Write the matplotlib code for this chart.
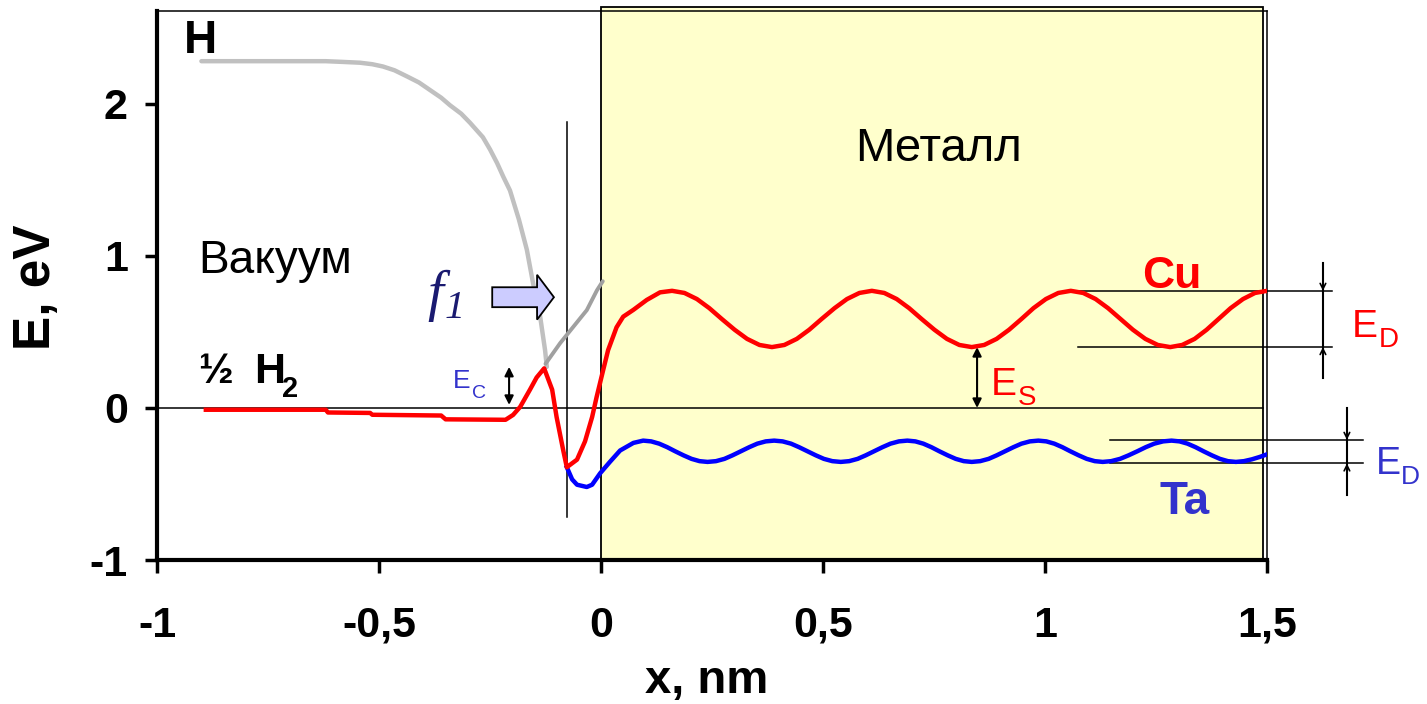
import matplotlib
matplotlib.use('Agg')
import matplotlib.pyplot as plt
from matplotlib.patches import Rectangle, FancyArrow

plt.rcParams['font.family'] = ['Liberation Sans', 'DejaVu Sans']

# ---------------- data ----------------
x_ticks = [-1, -0.5, 0, 0.5, 1, 1.5]
x_tick_labels = ['-1', '-0,5', '0', '0,5', '1', '1,5']
y_ticks = [-1, 0, 1, 2]
y_tick_labels = ['-1', '0', '1', '2']

# H atom (grey) curve
h_x = [-0.90, -0.62, -0.58, -0.543, -0.515, -0.491, -0.465, -0.437, -0.41, -0.385,
       -0.36, -0.34, -0.315, -0.295, -0.266, -0.25, -0.234, -0.22, -0.205,
       -0.185, -0.167, -0.153, -0.137, -0.126, -0.122]
h_y = [2.28, 2.28, 2.275, 2.27, 2.26, 2.245, 2.22, 2.18, 2.14, 2.09,
       2.04, 1.99, 1.935, 1.875, 1.78, 1.70, 1.61, 1.52, 1.43,
       1.24, 1.04, 0.82, 0.60, 0.38, 0.27]

# second (darker grey) branch
f1_x = [-0.125, -0.092, -0.063, -0.032, -0.009, 0.004]
f1_y = [0.29, 0.426, 0.531, 0.643, 0.774, 0.833]

# Cu (red)
cu_x = [-0.89, -0.62, -0.615, -0.52, -0.515, -0.36, -0.35, -0.215, -0.198,
        -0.182, -0.16, -0.145, -0.128, -0.11, -0.10, -0.085, -0.077,
        -0.054, -0.036, -0.02, -0.01, 0.005, 0.016, 0.035, 0.05, 0.073,
        0.103, 0.133, 0.16,
        0.188, 0.216, 0.244, 0.272, 0.301, 0.329, 0.357, 0.385,
        0.413, 0.441, 0.469, 0.497, 0.526, 0.554, 0.582, 0.61,
        0.638, 0.666, 0.694, 0.722, 0.751, 0.779, 0.807, 0.835,
        0.863, 0.891, 0.919, 0.947, 0.974, 1.002, 1.030, 1.058,
        1.086, 1.114, 1.142, 1.170, 1.198, 1.226, 1.254, 1.282,
        1.309, 1.337, 1.364, 1.391, 1.418, 1.446, 1.473, 1.50]
cu_y = [-0.012, -0.012, -0.030, -0.033, -0.045, -0.050, -0.075, -0.078, -0.046,
        0.007, 0.12, 0.20, 0.26, 0.12, -0.06, -0.28, -0.39,
        -0.34, -0.22, -0.06, 0.07, 0.25, 0.38, 0.53, 0.60, 0.645,
        0.71, 0.76, 0.77,
        0.756, 0.716, 0.656, 0.585, 0.514, 0.454, 0.414, 0.40,
        0.414, 0.454, 0.514, 0.585, 0.656, 0.716, 0.756, 0.77,
        0.756, 0.716, 0.656, 0.585, 0.514, 0.454, 0.414, 0.40,
        0.414, 0.454, 0.514, 0.585, 0.656, 0.716, 0.756, 0.77,
        0.756, 0.716, 0.656, 0.585, 0.514, 0.454, 0.414, 0.40,
        0.414, 0.454, 0.514, 0.585, 0.656, 0.716, 0.756, 0.77]

# Ta (blue)
ta_x = [-0.077, -0.065, -0.054, -0.032, -0.02, -0.002, 0.02, 0.043, 0.073, 0.095,
        0.113, 0.131, 0.149, 0.167, 0.186, 0.204, 0.222, 0.240,
        0.259, 0.278, 0.296, 0.315, 0.334, 0.352, 0.371, 0.390,
        0.409, 0.428, 0.446, 0.465, 0.484, 0.502, 0.521, 0.540,
        0.559, 0.578, 0.596, 0.615, 0.634, 0.652, 0.671, 0.690,
        0.708, 0.726, 0.744, 0.762, 0.781, 0.799, 0.817, 0.835,
        0.854, 0.873, 0.891, 0.910, 0.929, 0.947, 0.966, 0.985,
        1.003, 1.021, 1.039, 1.057, 1.076, 1.094, 1.112, 1.130,
        1.149, 1.169, 1.188, 1.208, 1.227, 1.246, 1.266, 1.285,
        1.303, 1.321, 1.339, 1.357, 1.376, 1.394, 1.412, 1.430,
        1.448, 1.466, 1.484, 1.500]
ta_y = [-0.39, -0.47, -0.505, -0.52, -0.505, -0.43, -0.355, -0.28, -0.23, -0.215,
        -0.220, -0.235, -0.258, -0.285, -0.312, -0.335, -0.350, -0.355,
        -0.350, -0.335, -0.312, -0.285, -0.258, -0.235, -0.220, -0.215,
        -0.220, -0.235, -0.258, -0.285, -0.312, -0.335, -0.350, -0.355,
        -0.350, -0.335, -0.312, -0.285, -0.258, -0.235, -0.220, -0.215,
        -0.220, -0.235, -0.258, -0.285, -0.312, -0.335, -0.350, -0.355,
        -0.350, -0.335, -0.312, -0.285, -0.258, -0.235, -0.220, -0.215,
        -0.220, -0.235, -0.258, -0.285, -0.312, -0.335, -0.350, -0.355,
        -0.350, -0.335, -0.312, -0.285, -0.258, -0.235, -0.220, -0.215,
        -0.220, -0.235, -0.258, -0.285, -0.312, -0.335, -0.350, -0.355,
        -0.350, -0.338, -0.322, -0.305]

cu_max, cu_min = 0.77, 0.40
ta_max, ta_min = -0.21, -0.365

# ---------------- figure ----------------
W, H = 1427, 704
fig = plt.figure(figsize=(W / 100, H / 100), dpi=100)
ax = fig.add_axes([157 / W, 1 - 560 / H, 1110 / W, 549 / H])
ax.set_xlim(-1, 1.5)
ax.set_ylim(-1, 2.61)

# metal region
ax.add_patch(Rectangle((0, -1), 1.49, 3.635, facecolor='#FFFFCC',
                       edgecolor='black', lw=1.3, zorder=0, clip_on=False))

# zero line and vertical marker
ax.plot([-1, 1.49], [0, 0], color='black', lw=1.1, zorder=2)
ax.plot([-0.077, -0.077], [-0.72, 1.88], color='black', lw=1.1, zorder=2)

# curves
ax.plot(h_x, h_y, color='#C0C0C0', lw=3.2, zorder=3, solid_capstyle='round')
ax.plot(f1_x, f1_y, color='#A0A0A0', lw=2.8, zorder=3, solid_capstyle='round')
ax.plot(ta_x, ta_y, color='#0000FF', lw=3.2, zorder=4)
ax.plot(cu_x, cu_y, color='#FF0000', lw=3.2, zorder=5)

# axes styling
for s in ['left', 'bottom']:
    ax.spines[s].set_linewidth(3)
for s in ['top', 'right']:
    ax.spines[s].set_linewidth(1.1)
ax.set_xticks(x_ticks)
ax.set_xticklabels(x_tick_labels)
ax.set_yticks(y_ticks)
ax.set_yticklabels(y_tick_labels)
ax.tick_params(axis='both', direction='out', length=9, width=2.5,
               labelsize=31, top=False, right=False)
ax.tick_params(axis='y', pad=12)
ax.tick_params(axis='x', pad=24)
for lab in ax.get_xticklabels() + ax.get_yticklabels():
    lab.set_fontweight('bold')

ax.set_xlabel('x, nm', fontsize=34, fontweight='bold')
ax.xaxis.label.set_va('baseline')
ax.xaxis.set_label_coords(0.495, -0.242)
ax.set_ylabel('E, eV', fontsize=37, fontweight='bold')
ax.yaxis.label.set_va('center')
ax.yaxis.set_label_coords(-0.109, 0.497)

# texts
ax.text(-0.94, 2.335, 'H', fontsize=33, fontweight='bold', va='baseline')
ax.text(-0.908, 0.885, 'Вакуум', fontsize=33, va='baseline')
ax.text(-0.908, 0.164, '½', fontsize=30, fontweight='bold', va='baseline')
ax.text(-0.782, 0.164, 'H', fontsize=31, fontweight='bold', va='baseline')
ax.text(-0.718, 0.072, '2', fontsize=21, fontweight='bold', va='baseline')
ax.text(0.572, 1.626, 'Металл', fontsize=34, va='baseline')
ax.text(1.218, 0.787, 'Cu', fontsize=32, fontweight='bold', color='#FF0000',
        va='baseline', clip_on=False)
ax.text(1.257, -0.695, 'Ta', fontsize=33, fontweight='bold', color='#3333CC',
        va='baseline', clip_on=False)

# f1 label
ax.text(-0.39, 0.643, 'f', family=['Liberation Serif'], style='italic',
        fontsize=41, color='#1A1A70', va='baseline')
ax.text(-0.353, 0.59, '1', family=['Liberation Serif'], style='italic',
        fontsize=29, color='#1A1A70', va='baseline')
ax.add_patch(FancyArrow(-0.245, 0.728, 0.139, 0, width=0.131, head_width=0.295,
                        head_length=0.038, length_includes_head=True,
                        facecolor='#CCCCFF', edgecolor='black', lw=1.3, zorder=6))

# E_C
ax.annotate('', xy=(-0.207, 0.27), xytext=(-0.207, 0.02),
            arrowprops=dict(arrowstyle='<|-|>', color='black', lw=1.5,
                            mutation_scale=13, shrinkA=0, shrinkB=0))
ax.text(-0.333, 0.131, 'E', fontsize=19, color='#3333CC', va='baseline')
ax.text(-0.290, 0.066, 'C', fontsize=14, color='#3333CC', va='baseline')

# E_S
ax.annotate('', xy=(0.847, 0.40), xytext=(0.847, 0.0),
            arrowprops=dict(arrowstyle='<|-|>', color='black', lw=1.5,
                            mutation_scale=13, shrinkA=0, shrinkB=0))
ax.text(0.878, 0.085, 'E', fontsize=28, color='#FF0000', va='baseline')
ax.text(0.938, 0.02, 'S', fontsize=20, color='#FF0000', va='baseline')

# E_D Cu
ax.plot([1.074, 1.646], [cu_max, cu_max], color='black', lw=1.1, clip_on=False, zorder=2)
ax.plot([1.074, 1.646], [cu_min, cu_min], color='black', lw=1.1, clip_on=False, zorder=2)
ax.plot([1.626, 1.626], [0.2, 0.95], color='black', lw=1.5, clip_on=False, zorder=2)
ax.annotate('', xy=(1.626, cu_max), xytext=(1.626, 0.90), annotation_clip=False,
            arrowprops=dict(arrowstyle='->', color='black', lw=1.2,
                            mutation_scale=10, shrinkA=0, shrinkB=0))
ax.annotate('', xy=(1.626, cu_min), xytext=(1.626, 0.27), annotation_clip=False,
            arrowprops=dict(arrowstyle='->', color='black', lw=1.2,
                            mutation_scale=10, shrinkA=0, shrinkB=0))
ax.text(1.691, 0.466, 'E', fontsize=28, color='#FF0000', va='baseline', clip_on=False)
ax.text(1.752, 0.40, 'D', fontsize=20, color='#FF0000', va='baseline', clip_on=False)

# E_D Ta
ax.plot([1.146, 1.716], [ta_max, ta_max], color='black', lw=1.1, clip_on=False, zorder=2)
ax.plot([1.146, 1.716], [ta_min, ta_min], color='black', lw=1.1, clip_on=False, zorder=2)
ax.plot([1.68, 1.68], [-0.57, 0.0], color='black', lw=1.5, clip_on=False, zorder=2)
ax.annotate('', xy=(1.68, ta_max), xytext=(1.68, -0.08), annotation_clip=False,
            arrowprops=dict(arrowstyle='->', color='black', lw=1.2,
                            mutation_scale=10, shrinkA=0, shrinkB=0))
ax.annotate('', xy=(1.68, ta_min), xytext=(1.68, -0.49), annotation_clip=False,
            arrowprops=dict(arrowstyle='->', color='black', lw=1.2,
                            mutation_scale=10, shrinkA=0, shrinkB=0))
ax.text(1.745, -0.433, 'E', fontsize=27, color='#3333CC', va='baseline', clip_on=False)
ax.text(1.802, -0.498, 'D', fontsize=19, color='#3333CC', va='baseline', clip_on=False)

fig.savefig('out.png', dpi=100)
